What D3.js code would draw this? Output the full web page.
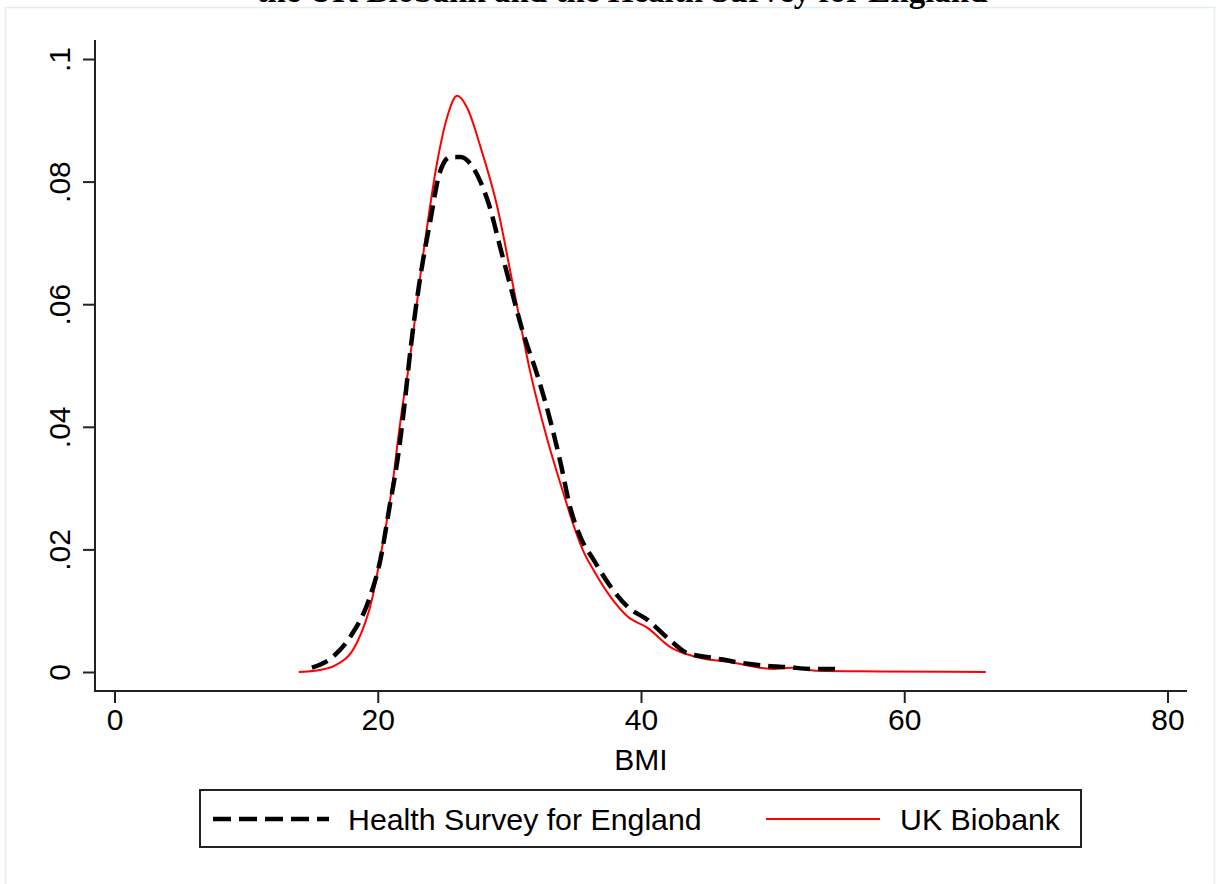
<!DOCTYPE html>
<html>
<head>
<meta charset="utf-8">
<script src="https://cdn.jsdelivr.net/npm/d3@7"></script>
<style>
  html, body { margin: 0; padding: 0; background: #fff; }
  svg { display: block; }
</style>
</head>
<body>
<svg id="chart" width="1217" height="884"></svg>
<script>
// ---- data ----
const titleText = "the UK Biobank and the Health Survey for England";
const xLabel = "BMI";
const xTicks = [0, 20, 40, 60, 80];
const yTicks = [0, 0.02, 0.04, 0.06, 0.08, 0.1];
const yTickLabels = ["0", ".02", ".04", ".06", ".08", ".1"];
const seriesNames = ["Health Survey for England", "UK Biobank"];

const hseBMI = [15.0, 16.6, 17.9, 19.4, 20.2, 20.9, 21.5, 22.1, 22.3, 23.2, 24.0, 24.7, 25.5, 26.3, 27.0, 27.8, 28.5, 29.3, 30.1, 31.05, 32.1, 33.1, 33.9, 34.6, 35.4, 36.4, 37.7, 39.0, 40.5, 42.2, 43.5, 45.5, 47.6, 49.6, 51.1, 53.1, 54.8];
const hseDensity = [0.0007, 0.0025, 0.0057, 0.0122, 0.0183, 0.027, 0.0346, 0.0449, 0.049, 0.064, 0.0737, 0.0814, 0.084, 0.084, 0.083, 0.080, 0.0759, 0.0693, 0.0628, 0.0553, 0.0486, 0.0411, 0.034, 0.027, 0.022, 0.0183, 0.0139, 0.0106, 0.0085, 0.0052, 0.0031, 0.0023, 0.0015, 0.0010, 0.0008, 0.0005, 0.0005];

const ukbBMI = [14.0, 15.2, 16.7, 18.4, 19.6, 20.2, 20.7, 21.16, 21.54, 21.95, 22.2, 23.47, 24.5, 25.27, 26.03, 26.8, 27.8, 29.08, 30.3, 31.6, 32.9, 34.1, 34.9, 35.6, 36.4, 37.7, 39.0, 40.5, 42.2, 44.3, 46.8, 50.1, 51.4, 53.4, 58.0, 66.2];
const ukbDensity = [0.0, 0.0002, 0.001, 0.0047, 0.0122, 0.0188, 0.0248, 0.0313, 0.0379, 0.0444, 0.0476, 0.0684, 0.083, 0.0905, 0.094, 0.092, 0.0857, 0.0759, 0.0628, 0.0488, 0.0378, 0.0292, 0.0238, 0.0198, 0.0166, 0.0122, 0.009, 0.0072, 0.0041, 0.0024, 0.0016, 0.0005, 0.0007, 0.0002, 0.0001, 0.0];

// ---- layout ----
const svg = d3.select("#chart");
const font = "'Liberation Sans', Arial, Helvetica, sans-serif";

const x = d3.scaleLinear().domain([0, 80]).range([114.5, 1167.5]);
const y = d3.scaleLinear().domain([0, 0.1]).range([672, 59]);

// faint outer frame
svg.append("rect").attr("x", 5.5).attr("y", 7.5).attr("width", 1209).attr("height", 900)
  .attr("fill", "none").attr("stroke", "#e3eded").attr("stroke-width", 1.5);

// title (cut at top, as in the reference)
svg.append("text").attr("x", 622).attr("y", 2)
  .attr("text-anchor", "middle")
  .attr("font-family", "'Liberation Serif', 'Times New Roman', serif")
  .attr("font-weight", "bold").attr("font-size", 33)
  .text(titleText);

// axes
const axisX0 = 94, axisX1 = 1187, axisY0 = 40, axisY1 = 691;
svg.append("line").attr("x1", axisX0).attr("x2", axisX1).attr("y1", axisY1).attr("y2", axisY1)
  .attr("stroke", "#222").attr("stroke-width", 2);
svg.append("line").attr("x1", 95).attr("x2", 95).attr("y1", axisY0).attr("y2", axisY1 + 1)
  .attr("stroke", "#222").attr("stroke-width", 2);

const xAxis = svg.append("g").attr("transform", `translate(0,${axisY1})`)
  .call(d3.axisBottom(x).tickValues(xTicks).tickSize(12).tickPadding(6).tickFormat(d3.format("d")));
xAxis.select(".domain").remove();
xAxis.selectAll(".tick line").attr("stroke", "#222").attr("stroke-width", 2);
xAxis.selectAll(".tick text").attr("font-family", font).attr("font-size", 30).attr("fill", "#000");

const yAxis = svg.append("g").attr("transform", `translate(95,0)`)
  .call(d3.axisLeft(y).tickValues(yTicks).tickSize(12).tickFormat((d, i) => yTickLabels[i]));
yAxis.select(".domain").remove();
yAxis.selectAll(".tick line").attr("stroke", "#222").attr("stroke-width", 2);
yAxis.selectAll(".tick text")
  .attr("font-family", font).attr("font-size", 30).attr("fill", "#000")
  .attr("text-anchor", "middle")
  .attr("x", null).attr("dy", null)
  .attr("transform", "translate(-25,0) rotate(-90)");

// x label
svg.append("text").attr("x", x(40)).attr("y", 770)
  .attr("text-anchor", "middle").attr("font-family", font).attr("font-size", 30)
  .text(xLabel);

// lines
const line = d3.line().x(d => x(d[0])).y(d => y(d[1])).curve(d3.curveMonotoneX);
const hse = hseBMI.map((v, i) => [v, hseDensity[i]]);
const ukb = ukbBMI.map((v, i) => [v, ukbDensity[i]]);

svg.append("path").datum(ukb).attr("d", line)
  .attr("fill", "none").attr("stroke", "#ff0000").attr("stroke-width", 2);
svg.append("path").datum(hse).attr("d", line)
  .attr("fill", "none").attr("stroke", "#000").attr("stroke-width", 4.5)
  .attr("stroke-dasharray", "17,8");

// legend
const leg = svg.append("g");
leg.append("rect").attr("x", 200).attr("y", 790).attr("width", 881).attr("height", 57)
  .attr("fill", "#fff").attr("stroke", "#222").attr("stroke-width", 2);
leg.append("line").attr("x1", 213).attr("x2", 329).attr("y1", 819).attr("y2", 819)
  .attr("stroke", "#000").attr("stroke-width", 4.5).attr("stroke-dasharray", "18,8");
leg.append("text").attr("x", 348).attr("y", 830).attr("font-family", font).attr("font-size", 30.3)
  .text(seriesNames[0]);
leg.append("line").attr("x1", 766).attr("x2", 880).attr("y1", 819).attr("y2", 819)
  .attr("stroke", "#ff0000").attr("stroke-width", 2);
leg.append("text").attr("x", 900).attr("y", 830).attr("font-family", font).attr("font-size", 30.3)
  .text(seriesNames[1]);
</script>
</body>
</html>
